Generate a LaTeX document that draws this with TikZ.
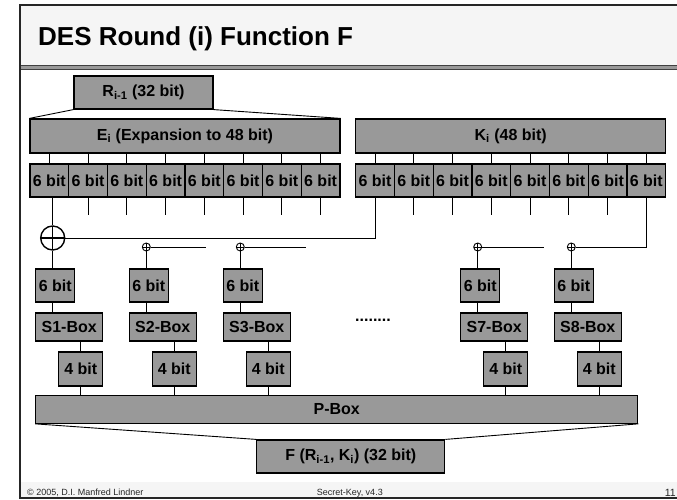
\documentclass[tikz,border=0pt]{standalone}
\usepackage{fontspec}
\setmainfont{Liberation Sans}
\definecolor{boxgray}{RGB}{153,153,153}
\definecolor{bandgray}{RGB}{245,245,245}
\tikzset{
  bitbox/.style={draw, fill=boxgray, line width=1.2pt, inner sep=0pt, font=\bfseries\fontsize{16}{18}\selectfont},
  wire/.style={line width=0.9pt},
  xorsign/.style={circle, draw, inner sep=0pt, path picture={\draw (path picture bounding box.north) -- (path picture bounding box.south) (path picture bounding box.west) -- (path picture bounding box.east);}},
  bigxor/.style={xorsign, line width=1.4pt, minimum size=24pt},
  smallxor/.style={xorsign, line width=0.9pt, minimum size=8pt},
  foot/.style={inner sep=0pt, text=black!85, font=\fontsize{9}{10}\selectfont}
}
\begin{document}
\begin{tikzpicture}[x=1pt,y=-1pt]
\path[use as bounding box] (0,0) rectangle (677,500);
\clip (0,0) rectangle (677,500);
\fill[bandgray] (20,5) rectangle (690,66);
\fill[bandgray] (20,482) rectangle (690,498);
\fill[black!40] (20,66) rectangle (690,70);
\draw[line width=1pt, black!75] (20,66) -- (690,66) (20,70) -- (690,70);
\draw[line width=1.2pt, black!85] (20,5) rectangle (690,498);
\node[anchor=base west, inner sep=0pt, font=\bfseries\fontsize{26}{30}\selectfont] (title) at (38,46) {DES Round (i) Function F};

\node[bitbox, minimum width=139pt, minimum height=33pt] (R) at (143.5,92.5) {R\textsubscript{i-1} (32 bit)};
\node[bitbox, minimum width=310pt, minimum height=34pt] (E) at (185,136) {E\textsubscript{i} (Expansion to 48 bit)};
\node[bitbox, minimum width=310pt, minimum height=34pt] (K) at (510.7,136) {K\textsubscript{i} (48 bit)};
\draw[wire] (R.south west) -- (E.north west) (R.south east) -- (E.north east);

\foreach \i in {1,...,8} {
  \node[bitbox, minimum width=38.75pt, minimum height=33pt] (e\i) at ({10.6+38.75*\i},180.5) {6 bit};
  \node[bitbox, minimum width=38.75pt, minimum height=33pt] (k\i) at ({336.3+38.75*\i},180.5) {6 bit};
  \draw[wire] (e\i.north) -- (e\i.north |- E.south);
  \draw[wire] (k\i.north) -- (k\i.north |- K.south);
}
\foreach \i in {2,...,8}
  \draw[wire] (e\i.south) -- ++(0,17);
\foreach \i in {2,...,7}
  \draw[wire] (k\i.south) -- ++(0,17);

\node[bigxor] (x1) at (52.7,238) {};
\foreach \col/\xl in {2/146.3, 3/240.3, 7/477.7, 8/571.3}
  \node[smallxor] (x\col) at (\xl,247) {};
\draw[wire] (x1 |- e1.south) -- (x1);
\draw[wire] (k1.south) |- (x1);
\draw[wire] (k8.south) |- (x8);
\draw[wire] (x2) -- ++(60,0);
\draw[wire] (x3) -- ++(66,0);
\draw[wire] (x7) -- ++(66,0);

\node[bitbox, minimum width=602pt, minimum height=27.5pt] (P) at (336.7,409.5) {P-Box};
\node[bitbox, minimum width=188pt, minimum height=33pt] (F) at (350.8,456.5) {F (R\textsubscript{i-1}, K\textsubscript{i}) (32 bit)};
\draw[wire] (P.south west) -- (F.north west) (P.south east) -- (F.north east);

\foreach \col/\xl in {1/35.7, 2/129.3, 3/223.3, 7/460.7, 8/554.3} {
  \node[bitbox, minimum width=39pt, minimum height=33pt] (in\col) at (\xl+19.5,285.5) {6 bit};
  \node[bitbox, minimum width=67pt, minimum height=28pt] (s\col) at (\xl+33.5,327) {S\col-Box};
  \node[bitbox, minimum width=44pt, minimum height=34pt] (out\col) at (\xl+45,369) {4 bit};
  \draw[wire] (x\col) -- (x\col |- in\col.north);
  \draw[wire] (x\col |- in\col.south) -- (x\col |- s\col.north);
  \draw[wire] (out\col.north |- s\col.south) -- (out\col.north);
  \draw[wire] (out\col.south) -- (out\col.south |- P.north);
}
\node[anchor=base, font=\bfseries\fontsize{16}{18}\selectfont] (dots) at (373,321) {........};

\node[foot, anchor=base west] (copy) at (27,495.5) {© 2005, D.I. Manfred Lindner};
\node[foot, anchor=base west] (series) at (316.7,495.5) {Secret-Key, v4.3};
\node[foot, anchor=base east, font=\fontsize{10.5}{12}\selectfont] (page) at (676,496.5) {11};
\end{tikzpicture}
\end{document}
